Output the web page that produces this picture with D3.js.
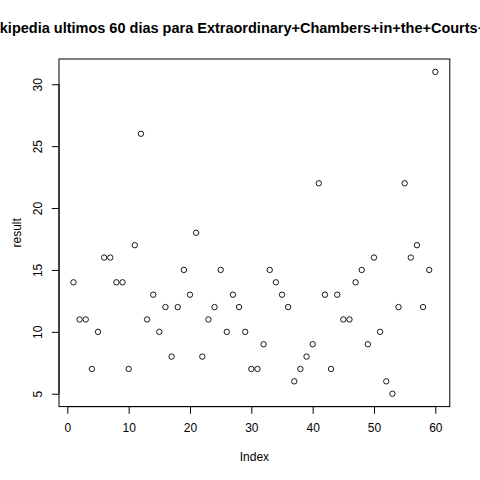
<!DOCTYPE html>
<html>
<head>
<meta charset="utf-8">
<script src="https://cdn.jsdelivr.net/npm/d3@7"></script>
<style>
  body { margin: 0; background: #fff; }
  svg { display: block; }
  text { font-family: "Liberation Sans", Arial, sans-serif; fill: #000; }
</style>
</head>
<body>
<svg id="chart" width="480" height="480"></svg>
<script>
// page views per day, last 60 days
var index = d3.range(1, 61);
var result = [14, 11, 11, 7, 10, 16, 16, 14, 14, 7,
              17, 26, 11, 13, 10, 12, 8, 12, 15, 13,
              18, 8, 11, 12, 15, 10, 13, 12, 10, 7,
              7, 9, 15, 14, 13, 12, 6, 7, 8, 9,
              22, 13, 7, 13, 11, 11, 14, 15, 9, 16,
              10, 6, 5, 12, 22, 16, 17, 12, 15, 31];
var xTicks = [0, 10, 20, 30, 40, 50, 60];
var yTicks = [5, 10, 15, 20, 25, 30];
var title = "Wikipedia ultimos 60 dias para Extraordinary+Chambers+in+the+Courts+of";

var svg = d3.select("#chart");

// R style plot region (mar = 5.1, 4.1, 4.1, 2.1 at 14.4px per line)
var plotLeft = 59, plotRight = 449.8, plotTop = 59, plotBottom = 406.6;

// 4% padding like R's default axis style
function padded(ext) {
    var d = (ext[1] - ext[0]) * 0.04;
    return [ext[0] - d, ext[1] + d];
}

var x = d3.scaleLinear().domain(padded(d3.extent(index))).range([plotLeft, plotRight]);
var y = d3.scaleLinear().domain(padded(d3.extent(result))).range([plotBottom, plotTop]);

// box
svg.append("rect")
    .attr("x", plotLeft).attr("y", plotTop)
    .attr("width", plotRight - plotLeft).attr("height", plotBottom - plotTop)
    .attr("fill", "none").attr("stroke", "#000").attr("stroke-width", 1);

// x axis
var xAxis = svg.append("g")
    .attr("transform", "translate(0," + plotBottom + ")")
    .call(d3.axisBottom(x).tickValues(xTicks).tickSize(7.2).tickPadding(0).tickFormat(d3.format("d")));
xAxis.select(".domain").attr("d", "M" + x(xTicks[0]) + ",0H" + x(xTicks[xTicks.length - 1]));
xAxis.selectAll("text").attr("y", 25.5).attr("dy", null).attr("font-size", 12)
    .style("font-family", "Liberation Sans, Arial, sans-serif");

// y axis
var yAxis = svg.append("g")
    .attr("transform", "translate(" + plotLeft + ",0)")
    .call(d3.axisLeft(y).tickValues(yTicks).tickSize(7.2).tickPadding(0).tickFormat(d3.format("d")));
yAxis.select(".domain").attr("d", "M0," + y(yTicks[0]) + "V" + y(yTicks[yTicks.length - 1]));
yAxis.selectAll(".tick text")
    .attr("x", null).attr("dy", null)
    .attr("text-anchor", "middle")
    .attr("transform", "translate(-16.7,0) rotate(-90)")
    .attr("font-size", 12)
    .style("font-family", "Liberation Sans, Arial, sans-serif");

svg.selectAll(".tick line, .domain").attr("stroke", "#000");

// points
svg.append("g").selectAll("circle")
    .data(result)
    .join("circle")
    .attr("cx", function(d, i) { return x(index[i]); })
    .attr("cy", function(d) { return y(d); })
    .attr("r", 2.7)
    .attr("fill", "none")
    .attr("stroke", "#000")
    .attr("stroke-width", 0.9);

// labels
svg.append("text")
    .attr("x", (plotLeft + plotRight) / 2).attr("y", 461)
    .attr("text-anchor", "middle").attr("font-size", 12)
    .text("Index");

svg.append("text")
    .attr("transform", "translate(21," + (plotTop + plotBottom) / 2 + ") rotate(-90)")
    .attr("text-anchor", "middle").attr("font-size", 12)
    .text("result");

// title is wider than the device, clipped on both sides like the original
svg.append("text")
    .attr("x", 241).attr("y", 33)
    .attr("text-anchor", "middle").attr("font-size", 14.5)
    .attr("font-weight", "bold")
    .text(title);
</script>
</body>
</html>
